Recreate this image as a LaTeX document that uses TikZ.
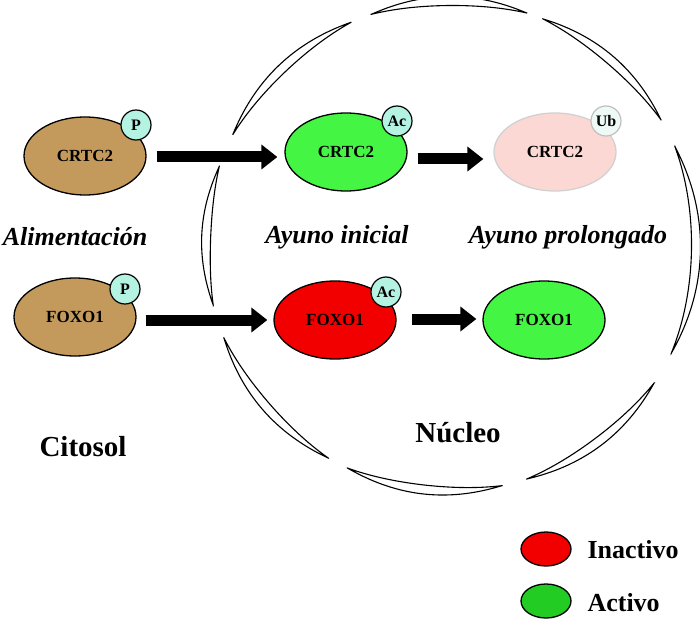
\documentclass[tikz,border=0pt]{standalone}
\usepackage{fontspec}
\setmainfont{Liberation Serif}
\usetikzlibrary{shapes.geometric,arrows.meta,calc}
\definecolor{brownp}{HTML}{C49A5C}
\definecolor{greenp}{HTML}{44F544}
\definecolor{redp}{HTML}{F20000}
\definecolor{pinkp}{HTML}{FCD8D4}
\definecolor{tagc}{HTML}{B4F2E2}
\definecolor{tagl}{HTML}{EEFAF6}
\definecolor{leggreen}{HTML}{22CC22}
\begin{document}
\begin{tikzpicture}[x=1pt,y=-1pt,
  prot/.style={ellipse,draw,line width=1.3pt,minimum width=122pt,minimum height=78pt,inner sep=0pt,font=\fontsize{17}{19}\selectfont\bfseries},
  tag/.style={circle,draw,line width=1.2pt,fill=tagc,minimum size=30pt,inner sep=0pt,font=\fontsize{16}{18}\selectfont\bfseries},
  flow/.style={-{Triangle[length=16pt,width=24pt]},line width=11pt},
  lab/.style={font=\fontsize{26}{29}\selectfont\bfseries\itshape},
  big/.style={font=\fontsize{29}{32}\selectfont\bfseries},
  legt/.style={anchor=west,font=\fontsize{26}{29}\selectfont\bfseries},
  leg/.style={ellipse,draw,line width=1.3pt,minimum width=50pt,minimum height=34pt}]
\useasboundingbox (0,0) rectangle (700,620);
% nuclear envelope
\foreach \a/\b in {72/109,31/68,-26/24,-72/-34,-115/-78,-158/-120,161/194,114/153}{
  \draw[line width=1.1pt,fill=white]
   plot[domain=\a:\b,samples=40,smooth] ({451+(245+4.5*sin(180*(\x-\a)/(\b-\a)))*cos(\x)},{246-(245+4.5*sin(180*(\x-\a)/(\b-\a)))*sin(\x)})
   -- plot[domain=\b:\a,samples=40,smooth] ({451+(245-4.5*sin(180*(\x-\a)/(\b-\a)))*cos(\x)},{246-(245-4.5*sin(180*(\x-\a)/(\b-\a)))*sin(\x)}) -- cycle;
}
% proteins
\node[prot,fill=brownp] (c1) at (85,156) {CRTC2};
\node[tag] (p1) at (136,125) {P};
\node[prot,fill=brownp] (f1) at (75,317) {FOXO1};
\node[tag] (p2) at (125,289) {P};
\node[prot,fill=greenp] (c2) at (346,152) {CRTC2};
\node[tag] (a1) at (397,121) {Ac};
\node[prot,fill=pinkp,draw=black!18] (c3) at (555,152) {CRTC2};
\node[tag,fill=tagl,draw=black!25] (u1) at (606,121) {Ub};
\node[prot,fill=redp] (f2) at (335,320) {FOXO1};
\node[tag] (a2) at (386,292) {Ac};
\node[prot,fill=greenp] (f3) at (544,320) {FOXO1};
% arrows
\draw[flow] ($(c1.east)+(10,1)$) -- ($(c2.west)+(-7,5)$);
\draw[flow] ($(f1.east)+(9,3)$) -- ($(f2.west)+(-6,0)$);
\draw[flow] ($(c2.east)+(10,7)$) -- ($(c3.west)+(-10,7)$);
\draw[flow] ($(f2.east)+(15,-1)$) -- ($(f3.west)+(-6,-1)$);
% labels
\node[lab] (t1) at (75,237) {Alimentación};
\node[lab] (t2) at (337,237) {Ayuno inicial};
\node[lab] (t3) at (568,237) {Ayuno prolongado};
\node[big] (t4) at (83,447) {Citosol};
\node[big] (t5) at (458,433) {Núcleo};
% legend
\node[leg,fill=redp] (l1) at (546,549) {};
\node[legt] (l1t) at (584,550) {Inactivo};
\node[leg,fill=leggreen] (l2) at (546,601) {};
\node[legt] (l2t) at (584,603) {Activo};
\end{tikzpicture}
\end{document}
